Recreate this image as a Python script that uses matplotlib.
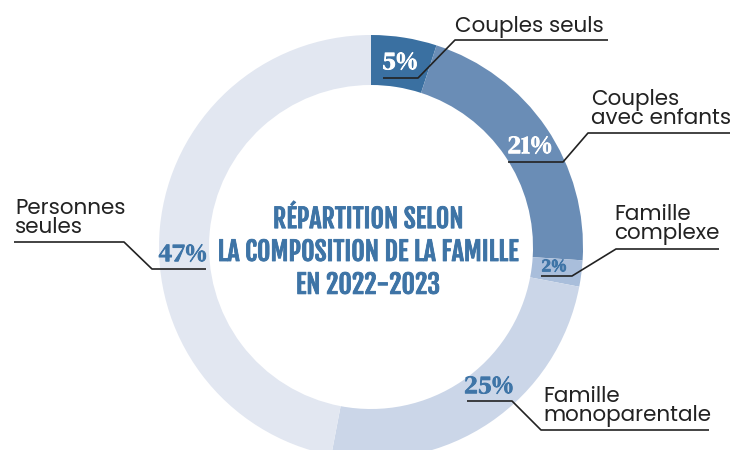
import matplotlib
matplotlib.use("Agg")
import matplotlib.pyplot as plt
import matplotlib.patheffects as pe

# ---- data ----
categories = ["Couples seuls", "Couples\navec enfants", "Famille\ncomplexe",
              "Famille\nmonoparentale", "Personnes\nseules"]
values = [5, 21, 2, 25, 47]
value_labels = ["5%", "21%", "2%", "25%", "47%"]
title_lines = ["RÉPARTITION SELON", "LA COMPOSITION DE LA FAMILLE", "EN 2022-2023"]

# ---- style / layout (pixel coordinates, y from top) ----
colors = ["#3a70a1", "#6a8db6", "#a9bedb", "#cbd6e8", "#e2e7f1"]
pct_colors = ["white", "white", "#3f75a7", "#3f75a7", "#3f75a7"]
pct_sizes = [18.5, 18.5, 13, 18.5, 18.5]
pct_pos = [(400, 63), (530, 147), (554, 267), (489, 387), (183, 255)]
# baseline of the last line of each label
label_pos = [(455, 32), (591, 124), (614, 239), (543, 421), (15, 233)]
leaders = [
    [(383, 78), (418, 78), (455, 40), (608, 40)],
    [(508, 162), (563, 162), (588, 133), (730, 133)],
    [(541, 276), (572, 276), (616, 249), (719, 249)],
    [(467, 401), (512, 401), (541, 430), (709, 430)],
    [(206, 269), (152, 269), (124, 242), (14, 242)],
]
W, H = 742, 450
cx, cy, R, ring = 371, 247, 212, 50
title_color = "#3e74a6"
text_color = "#222222"

fig = plt.figure(figsize=(W / 100, H / 100), dpi=100)
ax = fig.add_axes([0, 0, 1, 1])

def Y(py):
    return H - py

ax.pie(values, colors=colors, startangle=90, counterclock=False,
       radius=R, center=(cx, Y(cy)),
       wedgeprops=dict(width=ring, edgecolor="none", linewidth=0))

ax.set_xlim(0, W)
ax.set_ylim(0, H)
ax.set_aspect("equal")
ax.axis("off")

# percentage labels
for lab, (px, py), c, s in zip(value_labels, pct_pos, pct_colors, pct_sizes):
    ax.text(px, Y(py), lab, ha="center", va="center", color=c, fontsize=s,
            family=["DM Serif Display", "DejaVu Serif"],
            path_effects=[pe.withStroke(linewidth=0.7, foreground=c)])

# leader lines
for pts in leaders:
    xs = [p[0] for p in pts]
    ys = [Y(p[1]) for p in pts]
    ax.plot(xs, ys, color=text_color, lw=1.2, solid_capstyle="butt")

# category labels
for cat, (px, py) in zip(categories, label_pos):
    ax.text(px, Y(py), cat, ha="left", va="baseline", color=text_color,
            fontsize=15.5, linespacing=0.84, family=["Poppins", "DejaVu Sans"])

# central title
ax.text(368, Y(252), "\n".join(title_lines), ha="center", va="center",
        color=title_color, fontsize=18.7, linespacing=1.12,
        family=["Fjalla One", "DejaVu Sans"],
        path_effects=[pe.withStroke(linewidth=0.6, foreground=title_color)])

fig.savefig("out.png", dpi=100)
